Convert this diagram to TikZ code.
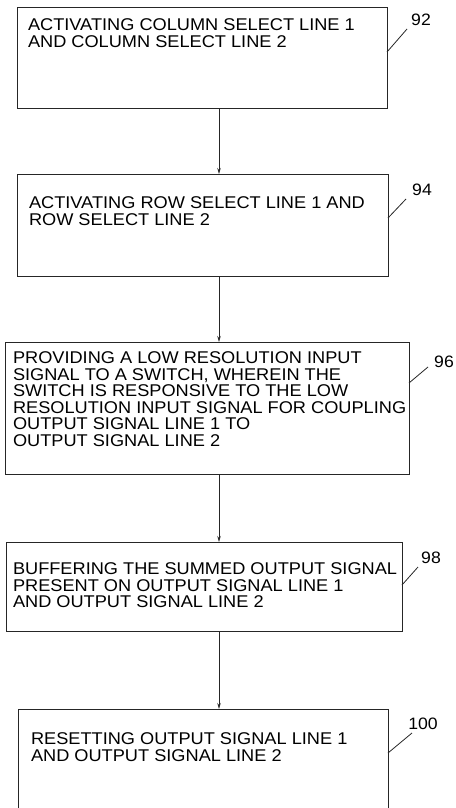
\documentclass[tikz,border=0pt]{standalone}
\usepackage{fontspec}
\setmainfont[FakeStretch=1.07]{Liberation Sans}
\usetikzlibrary{arrows.meta,calc}
\begin{document}
\begin{tikzpicture}[x=1pt,y=-1pt,
  boxst/.style={draw=black!85,line width=0.9pt,rectangle,inner sep=0pt,outer sep=0pt},
  txt/.style={anchor=north west,inner sep=0pt,outer sep=0pt,align=left,font=\fontsize{17}{16.5}\selectfont},
  lbl/.style={inner sep=0pt,font=\fontsize{16.5}{16.5}\selectfont},
  lead/.style={draw=black!85,line width=0.8pt},
  arr/.style={draw=black!85,line width=0.8pt,-{Stealth[length=6pt,width=3.5pt]}}]
\useasboundingbox (0,0) rectangle (455,808);
% boxes
\node[boxst,minimum width=370pt,minimum height=101pt] (b1) at (202,57.5) {};
\node[boxst,minimum width=371pt,minimum height=102pt] (b2) at (202.5,225) {};
\node[boxst,minimum width=404pt,minimum height=132pt] (b3) at (207,408) {};
\node[boxst,minimum width=396pt,minimum height=89pt] (b4) at (204,586.5) {};
\node[boxst,minimum width=370pt,minimum height=121pt] (b5) at (203,769.5) {};
% texts
\node[txt] (t1) at (28,19) {ACTIVATING COLUMN SELECT LINE 1\\AND COLUMN SELECT LINE 2};
\node[txt] (t2) at (29,197) {ACTIVATING ROW SELECT LINE 1 AND\\ROW SELECT LINE 2};
\node[txt] (t3) at (13,352) {PROVIDING A LOW RESOLUTION INPUT\\SIGNAL TO A SWITCH, WHEREIN THE\\SWITCH IS RESPONSIVE TO THE LOW\\RESOLUTION INPUT SIGNAL FOR COUPLING\\OUTPUT SIGNAL LINE 1 TO\\OUTPUT SIGNAL LINE 2};
\node[txt] (t4) at (13,563) {BUFFERING THE SUMMED OUTPUT SIGNAL\\PRESENT ON OUTPUT SIGNAL LINE 1\\AND OUTPUT SIGNAL LINE 2};
\node[txt] (t5) at (31,733) {RESETTING OUTPUT SIGNAL LINE 1\\AND OUTPUT SIGNAL LINE 2};
% arrows
\coordinate (ax) at (219,0);
\draw[arr] (b1.south -| ax) -- (b2.north -| ax);
\draw[arr] (b2.south -| ax) -- (b3.north -| ax);
\draw[arr] (b3.south -| ax) -- (b4.north -| ax);
\draw[arr] (b4.south -| ax) -- (b5.north -| ax);
% reference labels
\node[lbl] (l92) at (421,20) {92};
\node[lbl] (l94) at (422,190) {94};
\node[lbl] (l96) at (444,362) {96};
\node[lbl] (l98) at (431,558) {98};
\node[lbl] (l100) at (423,724) {100};
\coordinate (e92) at (407,29);
\coordinate (e94) at (406,199);
\coordinate (e96) at (428,367);
\coordinate (e98) at (418,567);
\coordinate (e100) at (412,733);
\draw[lead] ($(b1.north east)+(0,45)$) -- (e92);
\draw[lead] ($(b2.north east)+(0,44)$) -- (e94);
\draw[lead] ($(b3.north east)+(0,41)$) -- (e96);
\draw[lead] ($(b4.north east)+(0,43)$) -- (e98);
\draw[lead] ($(b5.north east)+(0,44)$) -- (e100);
\end{tikzpicture}
\end{document}
